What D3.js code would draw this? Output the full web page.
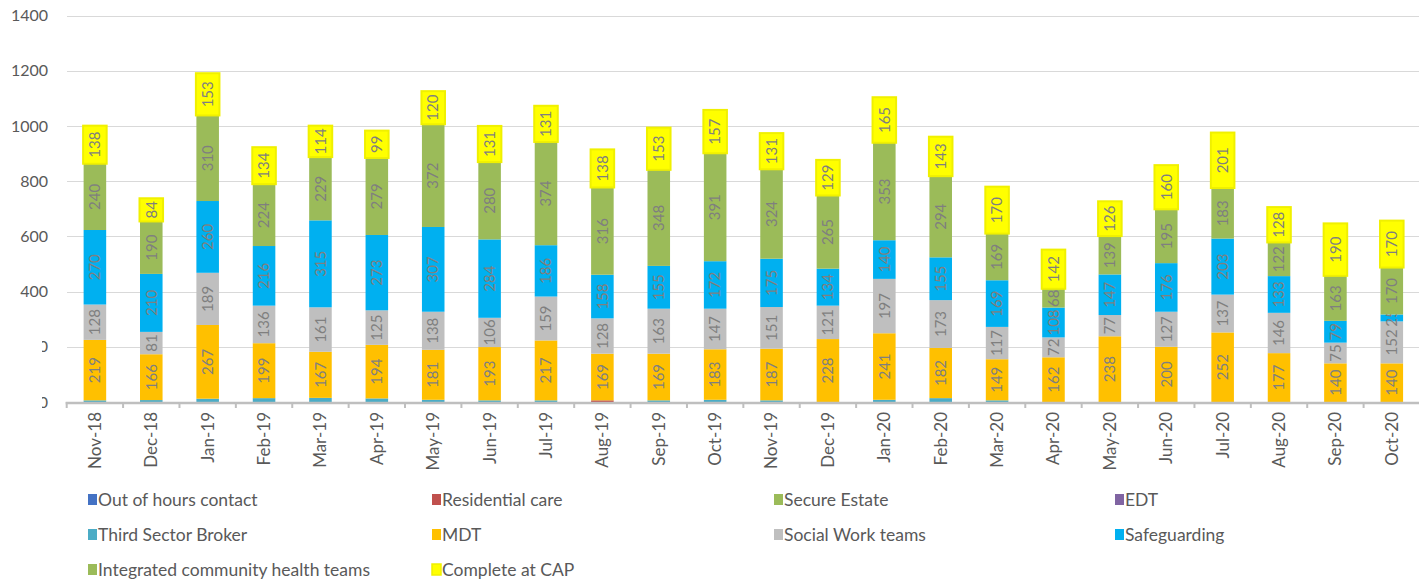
<!DOCTYPE html>
<html>
<head>
<meta charset="utf-8">
<style>
  * { margin: 0; padding: 0; }
  body { background: #fff; }
  svg text { font-family: Lato, "Open Sans", sans-serif; }
  .grid line { stroke: #d9d9d9; stroke-width: 1px; shape-rendering: crispEdges; }
  .ytick { font-size: 16px; fill: #595959; }
  .xtick { font-size: 17px; fill: #595959; }
  .seglabel { font-size: 15px; fill: #7f7f7f; }
  .legend text { font-size: 17.5px; fill: #595959; }
</style>
</head>
<body>
<svg id="chart" width="1419" height="579"></svg>
<script src="https://cdnjs.cloudflare.com/ajax/libs/d3/7.8.5/d3.min.js"></script>
<script>

let months = ['Nov-18','Dec-18','Jan-19','Feb-19','Mar-19','Apr-19','May-19','Jun-19','Jul-19','Aug-19','Sep-19','Oct-19',
  'Nov-19','Dec-19','Jan-20','Feb-20','Mar-20','Apr-20','May-20','Jun-20','Jul-20','Aug-20','Sep-20','Oct-20'];

let yTicks = [0, 200, 400, 600, 800, 1000, 1200, 1400];

// series, bottom to top
let outOfHours   = [0,0,0,0,0,0,0,0,0,0,0,0,0,0,0,0,0,0,0,0,0,0,0,0];
let residential  = [0,0,0,0,0,0,0,0,0,6,0,0,0,0,0,0,0,0,0,0,0,0,0,0];
let secureEstate = [0,0,0,0,0,0,0,0,0,0,0,0,0,0,0,0,0,0,0,0,0,0,0,0];
let edt          = [0,0,0,0,0,0,0,0,0,0,0,0,0,0,0,0,0,0,0,0,0,0,0,0];
let thirdSector  = [6,7,12,14,15,13,8,6,6,0,6,8,6,0,8,14,6,0,0,0,0,0,0,0];
let mdt          = [219,166,267,199,167,194,181,193,217,169,169,183,187,228,241,182,149,162,238,200,252,177,140,140];
let socialWork   = [128,81,189,136,161,125,138,106,159,128,163,147,151,121,197,173,117,72,77,127,137,146,75,152];
let safeguarding = [270,210,260,216,315,273,307,284,186,158,155,172,175,134,140,155,169,108,147,176,203,133,79,25];
let integrated   = [240,190,310,224,229,279,372,280,374,316,348,391,324,265,353,294,169,68,139,195,183,122,163,170];
let completeCap  = [138,84,153,134,114,99,120,131,131,138,153,157,131,129,165,143,170,142,126,160,201,128,190,170];

let series = [
  {name: 'Out of hours contact', values: outOfHours, color: '#4472c4', label: false},
  {name: 'Residential care', values: residential, color: '#c0504d', label: false},
  {name: 'Secure Estate', values: secureEstate, color: '#9bbb59', label: false},
  {name: 'EDT', values: edt, color: '#8064a2', label: false},
  {name: 'Third Sector Broker', values: thirdSector, color: '#4bacc6', label: false},
  {name: 'MDT', values: mdt, color: '#ffc000', label: true},
  {name: 'Social Work teams', values: socialWork, color: '#bfbfbf', label: true},
  {name: 'Safeguarding', values: safeguarding, color: '#00b0f0', label: true},
  {name: 'Integrated community health teams', values: integrated, color: '#9bbb59', label: true},
  {name: 'Complete at CAP', values: completeCap, color: '#ffff00', label: true, outline: true}
];

let legendOrder = ['Out of hours contact','Residential care','Secure Estate','EDT',
  'Third Sector Broker','MDT','Social Work teams','Safeguarding',
  'Integrated community health teams','Complete at CAP'];

let margin = {left: 66.7, right: 1420, top: 15.5, bottom: 402};

let svg = d3.select('#chart');

let x = d3.scaleBand()
  .domain(months)
  .range([margin.left, margin.right])
  .paddingInner(0.6)
  .paddingOuter(0.3);

let y = d3.scaleLinear()
  .domain([0, 1400])
  .range([margin.bottom, margin.top]);

// gridlines
svg.append('g').attr('class', 'grid')
  .selectAll('line')
  .data(yTicks.slice(1))
  .enter().append('line')
  .attr('x1', margin.left).attr('x2', margin.right)
  .attr('y1', d => Math.round(y(d)) + 0.5).attr('y2', d => Math.round(y(d)) + 0.5);

// y labels, the two lowest are cut off on the left like in the original
svg.append('clipPath').attr('id', 'lowclip')
  .append('rect').attr('x', 42).attr('y', 0).attr('width', 20).attr('height', 579);

svg.append('g')
  .selectAll('text')
  .data(yTicks)
  .enter().append('text')
  .attr('class', 'ytick')
  .attr('x', 48)
  .attr('y', d => y(d))
  .attr('dy', '0.35em')
  .attr('text-anchor', 'end')
  .attr('clip-path', d => d < 400 ? 'url(#lowclip)' : null)
  .text(d => d);

// stack
let table = months.map((m, i) => {
  let row = {month: m};
  series.forEach(s => row[s.name] = s.values[i]);
  return row;
});
let stacked = d3.stack().keys(series.map(s => s.name))(table);

let layers = svg.append('g').selectAll('g')
  .data(stacked)
  .enter().append('g');

layers.each(function(layer, li) {
  let s = series[li];
  let g = d3.select(this);
  g.selectAll('rect')
    .data(layer.filter(d => d[1] - d[0] > 0))
    .enter().append('rect')
    .attr('x', d => s.outline ? x(d.data.month) - 0.5 : x(d.data.month))
    .attr('width', d => s.outline ? x.bandwidth() + 1 : x.bandwidth())
    .attr('y', d => y(d[1]))
    .attr('height', d => y(d[0]) - y(d[1]))
    .attr('fill', s.color)
    .attr('stroke', s.outline ? '#f0f000' : null)
    .attr('stroke-width', s.outline ? 2 : null);
});

layers.each(function(layer, li) {
  let s = series[li];
  if (!s.label) return;
  d3.select(this).selectAll('text')
    .data(layer)
    .enter().append('text')
    .attr('class', 'seglabel')
    .attr('transform', d => {
      let cx = x(d.data.month) + x.bandwidth() / 2;
      let cy = (y(d[0]) + y(d[1])) / 2;
      return 'translate(' + cx + ',' + cy + ') rotate(-90)';
    })
    .attr('text-anchor', 'middle')
    .attr('dy', '0.35em')
    .text(d => d[1] - d[0]);
});

// x axis
let step = x.step();
svg.append('line')
  .attr('x1', margin.left - 1).attr('x2', margin.right)
  .attr('y1', margin.bottom + 1).attr('y2', margin.bottom + 1)
  .attr('stroke', '#bfbfbf').attr('stroke-width', 2.5);

svg.append('g').selectAll('line')
  .data(d3.range(months.length + 1))
  .enter().append('line')
  .attr('x1', i => margin.left + i * step).attr('x2', i => margin.left + i * step)
  .attr('y1', margin.bottom).attr('y2', margin.bottom + 6)
  .attr('stroke', '#bfbfbf').attr('stroke-width', 2);

svg.append('g').selectAll('text')
  .data(months)
  .enter().append('text')
  .attr('class', 'xtick')
  .attr('transform', d => 'translate(' + (x(d) + x.bandwidth() / 2) + ',' + (margin.bottom + 10) + ') rotate(-90)')
  .attr('text-anchor', 'end')
  .attr('dy', '0.35em')
  .text(d => d);

// legend
let legendX = [88, 432, 774, 1115];
let legendY = [500, 535, 570];
let legend = svg.append('g').attr('class', 'legend');
legendOrder.forEach((name, i) => {
  let s = series.find(d => d.name === name);
  let lx = legendX[i % 4], ly = legendY[Math.floor(i / 4)];
  let item = legend.append('g').attr('transform', 'translate(' + lx + ',' + ly + ')');
  item.append('rect')
    .attr('x', 0).attr('y', -6).attr('width', 9).attr('height', 11)
    .attr('fill', s.color)
    .attr('stroke', s.outline ? '#f0f000' : null)
    .attr('stroke-width', s.outline ? 1.5 : null);
  item.append('text')
    .attr('x', 10)
    .attr('y', 0)
    .attr('dy', '0.35em')
    .text(name);
});

</script>
</body>
</html>
